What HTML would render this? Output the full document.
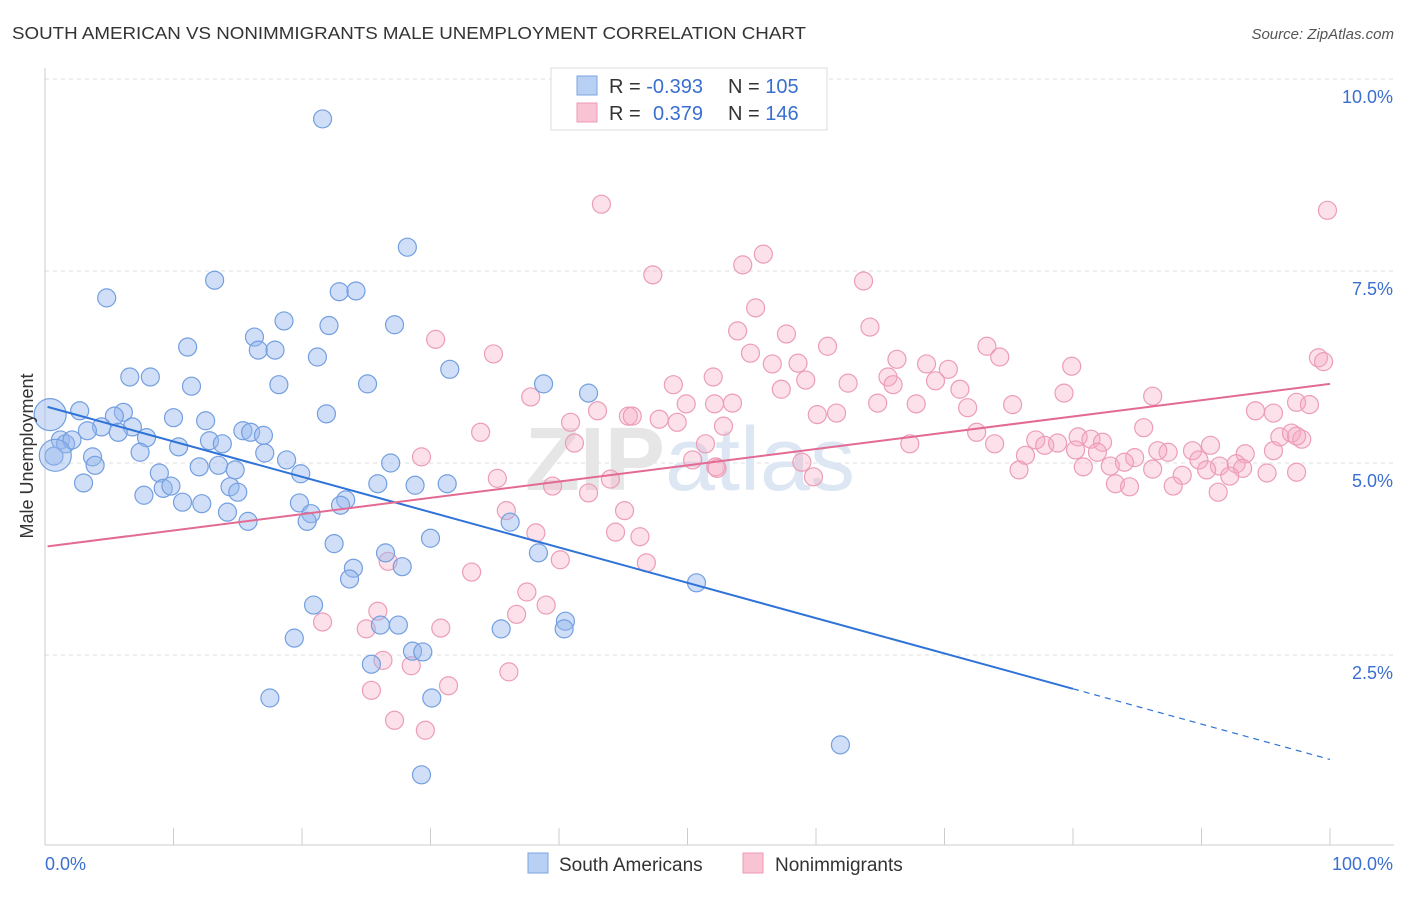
<!DOCTYPE html>
<html><head><meta charset="utf-8"><style>
body{margin:0;background:#fff;font-family:"Liberation Sans",sans-serif;}
svg text{font-family:"Liberation Sans",sans-serif;}
</style></head><body>
<svg id="chart" width="1406" height="892">
<text x="12" y="39" font-size="17.5" fill="#333" textLength="794" lengthAdjust="spacingAndGlyphs">SOUTH AMERICAN VS NONIMMIGRANTS MALE UNEMPLOYMENT CORRELATION CHART</text>
<text x="1394" y="39" font-size="15" fill="#555" text-anchor="end" font-style="italic">Source: ZipAtlas.com</text>
<g id="grid"></g>
<text x="690" y="490" font-size="90" fill="#e6e6e6" text-anchor="middle" font-weight="bold">ZIP<tspan fill="#dde6f3" font-weight="normal">atlas</tspan></text>
<g id="marks"></g>
<text transform="translate(33,456) rotate(-90)" font-size="18" fill="#333" text-anchor="middle">Male Unemployment</text>
<g>
<rect x="551" y="68" width="276" height="62" fill="#fff" stroke="#ddd"/>
<rect x="577" y="76" width="20" height="19" fill="#b8d0f3" stroke="#7da6e2"/>
<rect x="577" y="103" width="20" height="19" fill="#f8c3d2" stroke="#ee9ab5"/>
<text x="609" y="93" font-size="20" fill="#333">R = <tspan fill="#3a6fd0">-0.393</tspan><tspan x="728">N = </tspan><tspan fill="#3a6fd0">105</tspan></text>
<text x="609" y="120" font-size="20" fill="#333">R = <tspan x="653" fill="#3a6fd0">0.379</tspan><tspan x="728">N = </tspan><tspan fill="#3a6fd0">146</tspan></text>
</g>
<g>
<rect x="528" y="853" width="20" height="20" fill="#b8d0f3" stroke="#7da6e2"/>
<text x="559" y="871" font-size="19" fill="#333">South Americans</text>
<rect x="743" y="853" width="20" height="20" fill="#f8c3d2" stroke="#ee9ab5"/>
<text x="775" y="871" font-size="19" fill="#333">Nonimmigrants</text>
</g>
</svg>
<script>
const yTicks=[2.5,5.0,7.5,10.0];
const yTickLabels=["2.5%","5.0%","7.5%","10.0%"];
const xTickLabels=["0.0%","100.0%"];
const blueX=[21.6,28.2,4.8,13.2,22.9,24.2,27.2,22.1,18.6,16.3,11.1,16.6,17.9,21.2,31.5,6.6,8.2,11.4,18.2,25.1,38.8,42.3,2.7,6.1,5.4,10.0,12.5,21.9,4.4,6.8,5.7,3.3,15.4,16.0,17.0,7.9,1.2,1.6,2.1,10.4,12.8,13.8,7.4,17.1,0.7,3.7,3.9,12.0,13.5,18.8,26.9,8.9,14.8,19.9,25.9,28.8,31.3,3.0,9.2,9.8,14.4,15.0,7.7,10.7,12.2,19.8,23.4,23.0,20.7,14.2,15.8,20.4,36.2,22.5,30.0,26.5,38.4,27.8,24.0,23.7,50.7,20.9,19.4,26.1,27.5,35.5,40.5,40.4,28.6,29.4,25.4,30.1,17.5,61.9,29.3];
const blueY=[9.48,7.81,7.15,7.38,7.23,7.24,6.80,6.79,6.85,6.64,6.51,6.47,6.47,6.38,6.22,6.12,6.12,6.00,6.02,6.03,6.03,5.91,5.68,5.66,5.61,5.59,5.55,5.64,5.47,5.47,5.40,5.42,5.42,5.40,5.36,5.33,5.30,5.25,5.30,5.21,5.29,5.25,5.14,5.13,5.09,5.08,4.97,4.95,4.97,5.04,5.00,4.87,4.91,4.86,4.73,4.71,4.73,4.74,4.67,4.70,4.69,4.62,4.58,4.49,4.47,4.48,4.52,4.45,4.34,4.36,4.24,4.24,4.23,3.95,4.02,3.83,3.83,3.65,3.63,3.49,3.44,3.15,2.72,2.89,2.89,2.84,2.94,2.84,2.55,2.54,2.38,1.94,1.94,1.33,0.94];
const bigBlueX=[0.4,0.8];
const bigBlueY=[5.63,5.10];
const pinkX=[43.3,99.8,47.3,54.3,55.9,63.7,55.3,53.9,57.7,64.2,30.4,34.9,60.9,54.9,56.6,58.6,73.3,74.3,66.3,68.6,70.3,79.9,99.1,99.5,52.0,59.2,62.5,65.6,69.3,48.9,57.3,66.0,71.2,37.8,49.9,52.1,53.5,60.1,61.6,64.8,67.8,71.8,75.3,79.3,86.2,94.2,95.6,97.4,98.4,43.0,45.4,45.7,47.8,40.9,49.2,52.8,72.5,77.1,80.4,81.4,96.1,97.0,97.8,33.9,41.2,51.4,67.3,73.9,77.8,78.8,82.3,85.5,87.4,90.7,93.4,95.6,97.4,50.4,52.2,58.9,76.3,80.2,81.9,84.8,86.6,89.3,89.8,91.4,92.7,93.2,29.3,35.2,44.0,52.3,59.8,75.8,80.8,82.9,84.0,86.2,88.5,90.4,92.2,95.1,97.4,39.5,42.3,83.3,84.4,87.8,91.3,35.9,45.1,38.2,44.4,46.3,46.8,40.1,26.7,33.2,37.5,39.0,36.7,25.9,21.6,30.8,25.0,26.3,28.5,31.4,36.1,25.4,27.2,29.6];
const pinkY=[8.37,8.29,7.45,7.58,7.72,7.37,7.02,6.72,6.68,6.77,6.61,6.42,6.52,6.43,6.29,6.30,6.52,6.38,6.35,6.29,6.22,6.26,6.37,6.32,6.12,6.08,6.04,6.12,6.07,6.02,5.96,6.02,5.96,5.86,5.77,5.77,5.78,5.63,5.65,5.78,5.77,5.72,5.76,5.91,5.87,5.68,5.65,5.79,5.76,5.68,5.61,5.61,5.57,5.53,5.53,5.48,5.40,5.30,5.34,5.31,5.34,5.39,5.31,5.40,5.26,5.25,5.25,5.25,5.23,5.26,5.27,5.46,5.14,5.23,5.12,5.16,5.35,5.04,4.95,5.01,5.10,5.17,5.14,5.07,5.16,5.16,5.04,4.96,4.99,4.93,5.08,4.80,4.79,4.93,4.82,4.91,4.95,4.96,5.01,4.92,4.84,4.91,4.83,4.87,4.88,4.70,4.61,4.73,4.69,4.70,4.62,4.38,4.38,4.09,4.10,4.04,3.70,3.74,3.72,3.58,3.32,3.15,3.03,3.07,2.93,2.85,2.84,2.43,2.36,2.10,2.28,2.04,1.65,1.52];
const blueTrend=[5.74,-0.046];
const pinkTrend=[3.91,0.0212];

const NS="http://www.w3.org/2000/svg";
const X0=45,X1=1330,YB=847,PPU=76.8;
const sx=v=>X0+(X1-X0)*v/100;
const sy=v=>YB-v*PPU;
function mk(tag,attrs,parent){const e=document.createElementNS(NS,tag);for(const k in attrs)e.setAttribute(k,attrs[k]);parent.appendChild(e);return e;}
const grid=document.getElementById('grid');
const marks=document.getElementById('marks');
yTicks.forEach((t,i)=>{
  const l=mk('line',{x1:45,x2:1394,y1:sy(t),y2:sy(t),stroke:'#ddd','stroke-dasharray':'4,4'},grid);
  
  
  const tx=mk('text',{x:1393,y:sy(t)+24,'font-size':18,fill:'#3a6fd0','text-anchor':'end'},grid);
  tx.textContent=yTickLabels[i];
  
  
});
mk('line',{x1:45,x2:45,y1:68,y2:845,stroke:'#ccc'},grid);
mk('line',{x1:45,x2:1394,y1:845,y2:845,stroke:'#ccc'},grid);
for(let i=0;i<=10;i++){const l=mk('line',{x1:sx(i*10),x2:sx(i*10),y1:828,y2:845,stroke:'#ccc'},grid);
  
  }
const xl0=mk('text',{x:45,y:870,'font-size':18,fill:'#3a6fd0'},grid);xl0.textContent=xTickLabels[0];


const xl1=mk('text',{x:1393,y:870,'font-size':18,fill:'#3a6fd0','text-anchor':'end'},grid);xl1.textContent=xTickLabels[1];



function dot(x,y,r,fill,stroke,name){const c=mk('circle',{cx:sx(x),cy:sy(y),r:r,fill:fill,stroke:stroke,'stroke-width':1.2},marks);
  
  }
pinkX.forEach((x,i)=>dot(x,pinkY[i],9,'rgba(245,170,195,0.35)','#ec9db6','nonimmigrants-point'));
blueX.forEach((x,i)=>dot(x,blueY[i],9,'rgba(150,185,238,0.45)','#739fe0','south-americans-point'));
bigBlueX.forEach((x,i)=>dot(x,bigBlueY[i],16,'rgba(150,185,238,0.45)','#739fe0','south-americans-point-large'));

const bt=x=>blueTrend[0]+blueTrend[1]*x;
const pt=x=>pinkTrend[0]+pinkTrend[1]*x;
const b1=mk('line',{x1:sx(0.2),y1:sy(bt(0.2)),x2:sx(80),y2:sy(bt(80)),stroke:'#2f73d8','stroke-width':2},marks);


const b2=mk('line',{x1:sx(80),y1:sy(bt(80)),x2:sx(100),y2:sy(bt(100)),stroke:'#2f73d8','stroke-width':1.2,'stroke-dasharray':'6,5'},marks);


const p1=mk('line',{x1:sx(0.2),y1:sy(pt(0.2)),x2:sx(100),y2:sy(pt(100)),stroke:'#e36a93','stroke-width':2},marks);


</script>
</body></html>
